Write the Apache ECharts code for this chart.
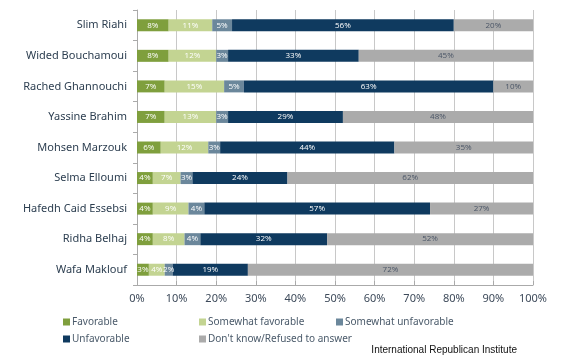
<!DOCTYPE html>
<html>
<head>
<meta charset="utf-8">
<script src="https://cdn.jsdelivr.net/npm/echarts@6/dist/echarts.min.js"></script>
<style>html,body{margin:0;padding:0;background:#fff}#c{width:570px;height:358px}</style>
</head>
<body>
<div id="c"></div>
<script>
var categories = ['Slim Riahi','Wided Bouchamoui','Rached Ghannouchi','Yassine Brahim','Mohsen Marzouk','Selma Elloumi','Hafedh Caid Essebsi','Ridha Belhaj','Wafa Maklouf'];
var seriesNames = ['Favorable','Somewhat favorable','Somewhat unfavorable','Unfavorable',"Don't know/Refused to answer"];
var favorable = [8,8,7,7,6,4,4,4,3];
var somewhatFavorable = [11,12,15,13,12,7,9,8,4];
var somewhatUnfavorable = [5,3,5,3,3,3,4,4,2];
var unfavorable = [56,33,63,29,44,24,57,32,19];
var dontKnow = [20,45,10,48,35,62,27,52,72];
var xTicks = [0,10,20,30,40,50,60,70,80,90,100];

var colors = ['#7f9f3d','#c3d492','#6b879b','#0f3a5f','#ababab'];
var values = [favorable, somewhatFavorable, somewhatUnfavorable, unfavorable, dontKnow];
var labelColors = ['#fff','#fff','#fff','#fff','#4a5566'];

var series = seriesNames.map(function(n,i){
  return {
    name:n, type:'bar', stack:'t', barWidth:12,
    data: values[i],
    itemStyle:{color:colors[i]},
    label:{show:true, position:'inside', formatter:'{c}%', fontSize:8, color:labelColors[i], fontFamily:'Open Sans'}
  };
});

var chart = echarts.init(document.getElementById('c'), null, {renderer:'canvas'});
chart.setOption({
  animation:false,
  color: colors,
  grid:{left:137, right:37, top:10, bottom:73},
  xAxis:{type:'value', min:xTicks[0], max:xTicks[xTicks.length-1], interval:10,
    axisLabel:{formatter:'{value}%', fontSize:11, color:'#3d4a5a', margin:8, fontFamily:'Noto Sans'},
    axisLine:{show:true, lineStyle:{color:'#aaaaaa'}},
    axisTick:{show:true, length:4, inside:true, lineStyle:{color:'#aaaaaa'}},
    splitLine:{show:true, lineStyle:{color:'#c8c8c8'}}},
  yAxis:{type:'category', data:categories, inverse:true,
    axisLabel:{fontSize:11, color:'#2c3e50', margin:10, fontFamily:'Noto Sans'},
    axisLine:{show:true, lineStyle:{color:'#aaaaaa'}},
    axisTick:{show:true, length:4, lineStyle:{color:'#aaaaaa'}}},
  legend:[
    {data:[seriesNames[0],seriesNames[3]], orient:'vertical', left:58, top:312, itemWidth:7, itemHeight:7, itemGap:7, icon:'rect',
     textStyle:{fontSize:10, color:'#4a5a6a', fontFamily:'Noto Sans', padding:[0,0,0,-3]}},
    {data:[seriesNames[1],seriesNames[4]], orient:'vertical', left:194, top:312, itemWidth:7, itemHeight:7, itemGap:7, icon:'rect',
     textStyle:{fontSize:10, color:'#4a5a6a', fontFamily:'Noto Sans', padding:[0,0,0,-3]}},
    {data:[seriesNames[2]], orient:'vertical', left:331, top:312, itemWidth:7, itemHeight:7, itemGap:7, icon:'rect',
     textStyle:{fontSize:10, color:'#4a5a6a', fontFamily:'Noto Sans', padding:[0,0,0,-3]}}
  ],
  graphic:[{type:'text', right:53, top:345, style:{text:'International Republican Institute', fontSize:10, fill:'#111', fontFamily:'Liberation Sans'}}],
  series: series
});
</script>
</body>
</html>
